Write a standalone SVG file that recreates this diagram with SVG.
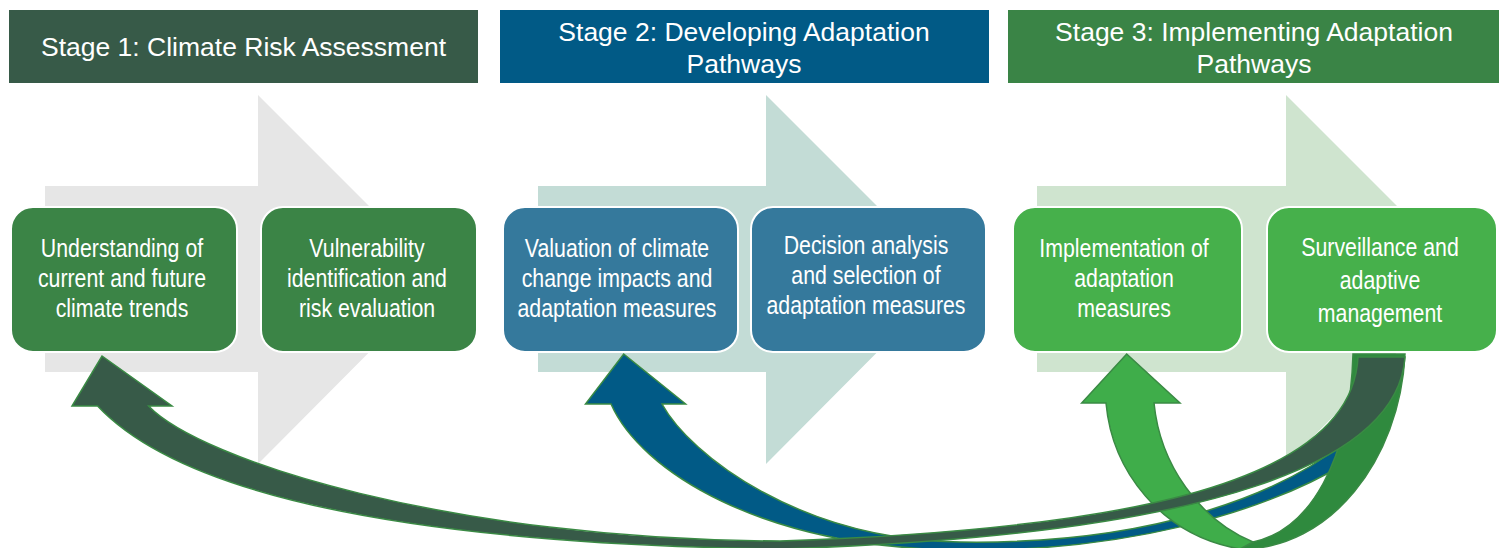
<svg xmlns="http://www.w3.org/2000/svg" width="1502" height="548" viewBox="0 0 1502 548">
<style>
.hdr{font-family:"Liberation Sans",Arial,sans-serif;font-size:26.5px;fill:#ffffff;text-anchor:middle}
.nt{font-family:"Liberation Sans",Arial,sans-serif;font-size:26px;fill:#ffffff;text-anchor:middle}
.box{stroke:#ffffff;stroke-width:2}
.b1{fill:#3B8446}
.b2{fill:#35799C}
.b3{fill:#46B04B}
.arr{stroke:#3A8A44;stroke-width:1.5;stroke-linejoin:miter}
</style>
<g id="background-chevrons">
<polygon points="45,186 258,186 258,95 442,279 258,464 258,372 45,372" fill="#E6E6E6"/>
<polygon points="538,186 766,186 766,95 950,279 766,464 766,372 538,372" fill="#C3DCD6"/>
<polygon points="1037,186 1286,186 1286,95 1470,279 1286,464 1286,372 1037,372" fill="#CFE4CF"/>
</g>
<g id="stage1-header">
<rect x="9" y="10" width="469" height="73" fill="#375A48"/>
<text class="hdr" x="243.5" y="56">Stage 1: Climate Risk Assessment</text>
</g>
<g id="stage2-header">
<rect x="500" y="10" width="489" height="73" fill="#015A86"/>
<text class="hdr" x="744" y="41">Stage 2: Developing Adaptation</text>
<text class="hdr" x="744" y="73">Pathways</text>
</g>
<g id="stage3-header">
<rect x="1008" y="10" width="491" height="73" fill="#3A8446"/>
<text class="hdr" x="1254" y="41">Stage 3: Implementing Adaptation</text>
<text class="hdr" x="1254" y="73">Pathways</text>
</g>
<g id="node-understanding">
<rect class="box b1" x="11" y="207" width="226" height="145" rx="22"/>
<text class="nt" transform="translate(122,257) scale(0.82,1)">Understanding of</text>
<text class="nt" transform="translate(122,287) scale(0.82,1)">current and future</text>
<text class="nt" transform="translate(122,317) scale(0.82,1)">climate trends</text>
</g>
<g id="node-vulnerability">
<rect class="box b1" x="261" y="207" width="216" height="145" rx="22"/>
<text class="nt" transform="translate(367,257) scale(0.82,1)">Vulnerability</text>
<text class="nt" transform="translate(367,287) scale(0.82,1)">identification and</text>
<text class="nt" transform="translate(367,317) scale(0.82,1)">risk evaluation</text>
</g>
<g id="node-valuation">
<rect class="box b2" x="503" y="207" width="235" height="145" rx="22"/>
<text class="nt" transform="translate(617,257) scale(0.82,1)">Valuation of climate</text>
<text class="nt" transform="translate(617,287) scale(0.82,1)">change impacts and</text>
<text class="nt" transform="translate(617,317) scale(0.82,1)">adaptation measures</text>
</g>
<g id="node-decision">
<rect class="box b2" x="751" y="207" width="235" height="145" rx="22"/>
<text class="nt" transform="translate(866,254) scale(0.82,1)">Decision analysis</text>
<text class="nt" transform="translate(866,284) scale(0.82,1)">and selection of</text>
<text class="nt" transform="translate(866,314) scale(0.82,1)">adaptation measures</text>
</g>
<g id="node-implementation">
<rect class="box b3" x="1013" y="207" width="229" height="145" rx="22"/>
<text class="nt" transform="translate(1124,257) scale(0.82,1)">Implementation of</text>
<text class="nt" transform="translate(1124,287) scale(0.82,1)">adaptation</text>
<text class="nt" transform="translate(1124,317) scale(0.82,1)">measures</text>
</g>
<g id="node-surveillance">
<rect class="box b3" x="1267" y="207" width="230" height="145" rx="22"/>
<text class="nt" transform="translate(1380,256) scale(0.82,1)">Surveillance and</text>
<text class="nt" transform="translate(1380,289) scale(0.82,1)">adaptive</text>
<text class="nt" transform="translate(1380,322) scale(0.82,1)">management</text>
</g>
<g id="connectors">
<path class="arr" fill="#015A86" d="M611,404 C640,470 760,548 960,550 C1120,552 1260,515 1348,462 L1345,442 C1280,495 1150,545 960,542 C800,540 690,455 662,404 L685.6,404 L623.7,354 L585.5,404 Z"/>
<path class="arr" fill="#2F8A3E" d="M1240,549 C1330,550 1400,460 1405,354 L1353,354 C1350,460 1310,530 1253,542 Z"/>
<path class="arr" fill="#3FAD4A" d="M1106,403 C1112,470 1160,535 1240,549 L1253,542 C1200,520 1160,465 1154,403 L1180,403 L1126.7,354 L1081.7,403 Z"/>
<path class="arr" fill="#375A48" d="M1358,357 L1405,357 C1398,460 1220,535 780,549 C500,545 200,515 97.6,406 L72,406 L102,356 L172,406 L148.6,406 C200,460 450,540 780,541 C1100,530 1352,490 1358,357 Z"/>
</g>
</svg>
